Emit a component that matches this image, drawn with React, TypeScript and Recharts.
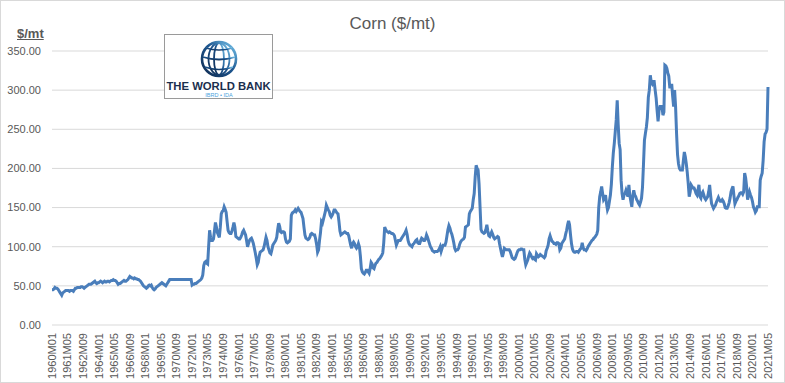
import { LineChart, Line, XAxis, YAxis, CartesianGrid } from "recharts";

// monthly corn prices, $/mt (Jan..Dec per row)
const corn1960s = [
  45, 45, 46, 48, 47, 47, 46, 44, 42, 40, 38, 41,
  42, 43, 44, 44, 44, 44, 43, 44, 44, 44, 43, 45,
  47, 47, 48, 48, 48, 48, 49, 49, 48, 47, 48, 49,
  50, 51, 52, 52, 52, 53, 54, 55, 56, 54, 53, 54,
  54, 55, 56, 55, 54, 55, 56, 55, 55, 56, 56, 55,
  56, 57, 57, 58, 57, 57, 56, 54, 52, 53, 53, 54,
  55, 56, 57, 56, 56, 57, 58, 60, 62, 61, 60, 60,
  59, 60, 59, 59, 58, 58, 57, 56, 54, 52, 50, 49,
  48, 47, 48, 50, 51, 50, 51, 48, 46, 45, 46, 48,
  49, 50, 51, 52, 53, 54, 53, 52, 51, 50, 52, 54,
];

const corn1970s = [
  56, 58, 58, 58, 58, 58, 58, 58, 58, 58, 58, 58,
  58, 58, 58, 58, 58, 58, 58, 58, 58, 58, 58, 58,
  51, 52, 52, 53, 53, 54, 55, 56, 57, 58, 60, 64,
  76, 80, 81, 79, 78, 100, 121, 112, 108, 108, 110, 120,
  131, 125, 118, 115, 112, 125, 142, 145, 146, 151, 148, 144,
  132, 121, 118, 117, 117, 120, 125, 131, 125, 113, 112, 111,
  110, 110, 112, 115, 119, 121, 118, 115, 108, 100, 104, 108,
  110, 111, 108, 104, 98, 92, 85, 77, 80, 88, 93, 94,
  95, 96, 100, 106, 112, 108, 100, 96, 92, 91, 96, 102,
  104, 106, 108, 112, 122, 130, 126, 119, 118, 119, 119, 118,
];

const corn1980s = [
  110, 106, 105, 106, 107, 110, 140, 143, 144, 145, 147, 145,
  147, 149, 147, 145, 144, 140, 136, 125, 115, 111, 110, 109,
  110, 112, 116, 117, 116, 115, 115, 110, 103, 93, 96, 108,
  118, 132, 130, 135, 140, 145, 153, 150, 147, 145, 140, 138,
  140, 143, 147, 147, 145, 143, 142, 132, 120, 115, 116, 117,
  118, 119, 118, 117, 117, 114, 108, 102, 98, 104, 106, 104,
  100, 98, 100, 104, 100, 88, 72, 68, 66, 65, 67, 70,
  70, 68, 66, 72, 80, 78, 73, 72, 76, 79, 80, 82,
  84, 85, 87, 89, 92, 105, 125, 122, 120, 119, 118, 119,
  118, 117, 117, 116, 114, 108, 102, 105, 108, 108, 108, 110,
];

const corn1990s = [
  112, 114, 116, 118, 121, 116, 108, 104, 102, 101, 100, 103,
  104, 106, 108, 109, 105, 104, 104, 108, 111, 110, 108, 108,
  110, 115, 112, 108, 104, 100, 98, 95, 94, 93, 94, 94,
  94, 95, 97, 100, 94, 98, 102, 102, 102, 106, 114, 122,
  127, 124, 119, 116, 111, 105, 98, 95, 96, 96, 98, 103,
  106, 108, 109, 110, 112, 125, 126, 127, 128, 142, 145, 147,
  149, 160, 168, 189, 204, 200, 198, 180, 151, 122, 119, 118,
  117, 118, 122, 128, 120, 114, 113, 116, 119, 116, 112, 110,
  111, 112, 113, 112, 104, 98, 92, 87, 92, 98, 97, 96,
  96, 96, 96, 94, 90, 86, 85, 84, 85, 88, 92, 95,
];

const corn2000s = [
  96, 96, 97, 97, 96, 96, 84, 77, 80, 83, 88, 92,
  90, 87, 85, 86, 84, 83, 91, 89, 87, 88, 90, 89,
  88, 87, 86, 88, 95, 98, 102, 110, 114, 110, 107, 106,
  104, 104, 103, 105, 105, 104, 96, 98, 104, 106, 108, 110,
  116, 121, 128, 133, 128, 115, 104, 97, 94, 93, 93, 94,
  94, 93, 95, 97, 98, 105, 99, 96, 96, 95, 97, 100,
  102, 104, 106, 108, 109, 111, 112, 114, 116, 121, 150, 164,
  170, 177, 168, 160, 162, 166, 155, 147, 150, 158, 166, 180,
  202, 220, 232, 247, 262, 287, 256, 232, 224, 185, 168, 160,
  166, 168, 172, 168, 164, 179, 165, 158, 151, 165, 172, 166,
];

const corn2010s = [
  164, 160, 158, 155, 153, 157, 162, 176, 205, 236, 245, 253,
  265, 291, 300, 319, 310, 308, 311, 311, 300, 290, 274, 260,
  274, 279, 279, 279, 268, 272, 332, 331, 328, 322, 318, 304,
  304, 308, 292, 279, 300, 279, 245, 218, 206, 200, 198, 198,
  198, 210, 221, 215, 206, 195, 181, 164, 170, 179, 177, 175,
  175, 172, 168, 166, 172, 179, 164, 162, 168, 170, 166, 162,
  160, 162, 164, 170, 179, 166, 155, 152, 149, 151, 153, 157,
  160, 163, 160, 158, 158, 160, 158, 155, 150, 149, 149, 152,
  156, 162, 170, 174, 177, 165, 155, 158, 160, 163, 165, 168,
  169, 169, 167, 170, 194, 188, 177, 160, 165, 170, 166, 163,
];

const corn2020s = [
  158, 151, 148, 144, 146, 151, 151, 151, 185, 190, 194, 210,
  234, 244, 246, 250, 304,
];

const tickLabels = [
  "1960M01", "1961M05", "1962M09", "1964M01", "1965M05", "1966M09", "1968M01",
  "1969M05", "1970M09", "1972M01", "1973M05", "1974M09", "1976M01", "1977M05",
  "1978M09", "1980M01", "1981M05", "1982M09", "1984M01", "1985M05", "1986M09",
  "1988M01", "1989M05", "1990M09", "1992M01", "1993M05", "1994M09", "1996M01",
  "1997M05", "1998M09", "2000M01", "2001M05", "2002M09", "2004M01", "2005M05",
  "2006M09", "2008M01", "2009M05", "2010M09", "2012M01", "2013M05", "2014M09",
  "2016M01", "2017M05", "2018M09", "2020M01", "2021M05",
];

const yTicks = [0, 50, 100, 150, 200, 250, 300, 350];

const prices = [
  ...corn1960s, ...corn1970s, ...corn1980s, ...corn1990s,
  ...corn2000s, ...corn2010s, ...corn2020s,
];

const data = prices.map((price, i) => {
  const year = 1960 + Math.floor(i / 12);
  const m = (i % 12) + 1;
  return { i, month: `${year}M${String(m).padStart(2, "0")}`, price };
});

const tickIndex = tickLabels.map((l) => data.findIndex((d) => d.month === l));

const FONT = "'Liberation Sans', Arial, sans-serif";
const TEXT = "#595959";

function MonthTick({ x, y, payload }: any) {
  const row = data[payload.value];
  return (
    <text
      x={x}
      y={y}
      transform={`rotate(-90 ${x} ${y})`}
      textAnchor="end"
      dy="0.35em"
      fontSize={11}
      fontFamily={FONT}
      fill={TEXT}
    >
      {row ? row.month : ""}
    </text>
  );
}

function WorldBankLogo() {
  const meridians = [5, 10.5];
  return (
    <div
      style={{
        position: "absolute",
        left: 164,
        top: 34,
        width: 107,
        height: 63,
        border: "1px solid #9a9a9a",
        background: "#fff",
      }}
    >
      <svg width={107} height={63}>
        <defs>
          <linearGradient id="globe" x1="0" y1="1" x2="1" y2="0">
            <stop offset="0%" stopColor="#0f2a4f" />
            <stop offset="55%" stopColor="#1d5690" />
            <stop offset="100%" stopColor="#7ccaf0" />
          </linearGradient>
        </defs>
        <g fill="none" stroke="url(#globe)">
          <circle cx={54} cy={24} r={17} strokeWidth={2.6} />
          {meridians.map((rx) => (
            <ellipse key={rx} cx={54} cy={24} rx={rx} ry={16} strokeWidth={1.8} />
          ))}
          <line x1={54} y1={8} x2={54} y2={40} strokeWidth={1.8} />
          <path d="M38 22 Q54 27 70 22" strokeWidth={1.8} />
          <path d="M41 13 Q54 17 67 13" strokeWidth={1.6} />
          <path d="M40 32 Q54 37 68 32" strokeWidth={1.6} />
        </g>
        <text
          x={53.5}
          y={55}
          textAnchor="middle"
          fontFamily={FONT}
          fontWeight="bold"
          fontSize={11.3}
          fill="#1b2f4e"
        >
          THE WORLD BANK
        </text>
        <text
          x={54}
          y={61.5}
          textAnchor="middle"
          fontFamily={FONT}
          fontSize={5.5}
          fill="#4aa3dd"
        >
          IBRD • IDA
        </text>
      </svg>
    </div>
  );
}

export default function App() {
  return (
    <div
      style={{
        position: "fixed",
        left: 0,
        top: 0,
        width: 785,
        height: 383,
        background: "#fff",
        boxShadow: "inset 0 0 0 1px #d9d9d9",
        fontFamily: FONT,
      }}
    >
      <LineChart
        width={785}
        height={383}
        data={data}
        margin={{ top: 51, right: 17, bottom: 2, left: 8 }}
      >
        <CartesianGrid vertical={false} stroke="#d9d9d9" />
        <XAxis
          type="number"
          dataKey="i"
          domain={[0, prices.length - 1]}
          ticks={tickIndex}
          interval={0}
          height={56}
          axisLine={false}
          tickLine={false}
          tickSize={0}
          tickMargin={8}
          tick={<MonthTick />}
        />
        <YAxis
          domain={[0, 350]}
          ticks={yTicks}
          width={44}
          axisLine={false}
          tickLine={false}
          tickSize={0}
          tickMargin={11}
          tickFormatter={(v) => Number(v).toFixed(2)}
          tick={{ fontSize: 11, fill: TEXT, fontFamily: FONT }}
        />
        <Line
          type="linear"
          dataKey="price"
          stroke="#4a7ebb"
          strokeWidth={3}
          dot={false}
          isAnimationActive={false}
        />
      </LineChart>
      <div
        style={{
          position: "absolute",
          left: 0,
          top: 14,
          width: 785,
          textAlign: "center",
          fontSize: 17,
          lineHeight: "20px",
          color: TEXT,
        }}
      >
        Corn ($/mt)
      </div>
      <div
        style={{
          position: "absolute",
          left: 17,
          top: 26,
          fontSize: 13,
          lineHeight: "15px",
          fontWeight: "bold",
          textDecoration: "underline",
          color: TEXT,
        }}
      >
        $/mt
      </div>
      <WorldBankLogo />
    </div>
  );
}
